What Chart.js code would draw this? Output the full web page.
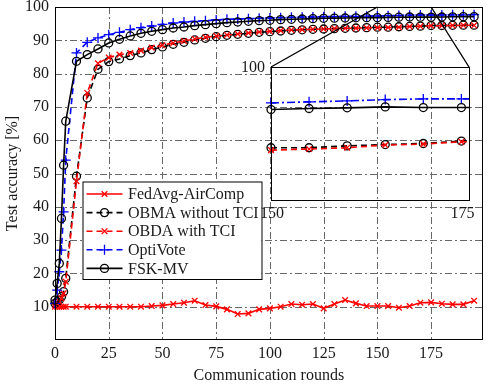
<!DOCTYPE html>
<html><head><meta charset="utf-8">
<script src="https://cdn.jsdelivr.net/npm/chart.js@4.4.1/dist/chart.umd.min.js"></script>
<style>
html,body{margin:0;padding:0;background:#fff;}
canvas{display:block;}
</style></head><body>
<canvas id="main" width="489" height="386"></canvas>
<script>
// ---------------- data ----------------
const rounds = [0,1,2,3,4,5,10,15,20,25,30,35,40,45,50,55,60,65,70,75,80,85,90,95,100,105,110,115,120,125,130,135,140,145,150,155,160,165,170,175,180,185,190,195];
const seriesNames = ['FedAvg-AirComp','OBMA without TCI','OBDA with TCI','OptiVote','FSK-MV'];
const fedAvgAirComp = [10.0,10.0,10.0,10.0,10.0,10.0,10.0,10.0,10.0,10.0,10.0,10.0,10.0,10.2,10.4,10.8,11.2,11.8,10.5,10.1,9.2,7.8,8.0,9.2,9.5,10.0,10.8,10.6,10.8,9.5,10.8,12.0,11.0,10.2,10.2,10.2,9.7,10.2,11.2,11.3,10.9,10.7,10.7,11.8];
const obmaWithoutTci = [11.0,11.5,12.0,13.0,14.5,18.5,49.2,72.7,81.3,83.6,84.4,85.4,86.2,87.2,88.0,88.8,89.4,90.1,90.6,91.1,91.5,91.8,92.1,92.4,92.6,92.8,93.0,93.15,93.3,93.4,93.5,93.6,93.7,93.8,93.93,93.93,94.07,94.17,94.25,94.43,94.45,94.5,94.55,94.55];
const obdaWithTci = [10.5,11.0,11.5,12.5,14.0,17.5,47.7,74.2,83.1,84.8,85.7,86.2,86.9,87.8,88.5,89.2,89.8,90.4,90.9,91.3,91.6,91.9,92.2,92.5,92.7,92.9,93.1,93.2,93.3,93.4,93.5,93.6,93.65,93.7,93.75,93.83,93.93,94.13,94.2,94.38,94.4,94.45,94.5,94.5];
const optiVote = [11.0,15.0,20.5,27.0,38.5,54.0,86.2,89.4,90.7,91.7,92.4,93.2,93.8,94.3,94.8,95.2,95.5,95.7,95.9,96.1,96.3,96.4,96.5,96.6,96.7,96.8,96.9,96.95,97.0,97.1,97.1,97.2,97.2,97.25,97.3,97.38,97.45,97.55,97.6,97.6,97.6,97.65,97.65,97.7];
const fskMv = [12.0,17.0,23.0,36.5,52.5,65.7,83.7,85.7,87.4,89.2,90.3,91.3,92.1,92.7,93.2,93.7,94.0,94.4,94.7,95.0,95.3,95.5,95.7,95.9,96.0,96.2,96.3,96.4,96.5,96.6,96.65,96.7,96.75,96.8,96.8,96.88,96.93,97.0,96.95,96.95,97.0,97.05,97.1,97.1];
const xTicks = [0,25,50,75,100,125,150,175];
const yTicks = [10,20,30,40,50,60,70,80,90,100];
const insetXTicks = [150,175];
const insetYTicks = [100];
const insetDataRange = [150,180];

// ---------------- styles / layout ----------------
const FONT = "'Liberation Serif','Times New Roman',serif";
const TXT = '#1a1a1a';
const GRID_COLOR = '#686868';
const INSET_BOX = {left: 271, top: 67, right: 469, bottom: 200};
const allSeries = [fedAvgAirComp, obmaWithoutTci, obdaWithTci, optiVote, fskMv];
const styles = [
  {color:'#ff0000', dash:[], insetDash:[], point:'crossRot', r:4},
  {color:'#000000', dash:[6,4], insetDash:[6,4], point:'circle', r:4},
  {color:'#ff0000', dash:[6,4], insetDash:[6,4], point:'crossRot', r:4},
  {color:'#0000ff', dash:[6,4], insetDash:[8,3,2,3], point:'cross', r:5},
  {color:'#000000', dash:[], insetDash:[], point:'circle', r:4}
];

function makeDatasets(inset) {
  return seriesNames.map((name, k) => {
    const st = styles[k];
    const pts = [];
    rounds.forEach((r, i) => {
      if (!inset || (r >= insetDataRange[0] && r <= insetDataRange[1])) pts.push({x: r, y: allSeries[k][i]});
    });
    return {
      label: name,
      isInset: inset,
      xAxisID: inset ? 'xi' : 'x',
      yAxisID: inset ? 'yi' : 'y',
      data: pts,
      borderColor: st.color,
      borderWidth: 1.6,
      borderDash: inset ? st.insetDash : st.dash,
      pointStyle: st.point,
      pointRadius: st.r,
      pointBorderColor: st.color,
      pointBackgroundColor: 'rgba(0,0,0,0)',
      pointBorderWidth: 1.3,
      fill: false,
      tension: 0,
      order: 5 - k,
      clip: inset ? {left: 7, top: 7, right: 0, bottom: 7} : 8
    };
  });
}

function zeroPad(s) { s.paddingTop = 0; s.paddingBottom = 0; s.paddingLeft = 0; s.paddingRight = 0; }

const insetLayoutPlugin = {
  id: 'insetLayout',
  afterLayout(chart) {
    const xi = chart.scales.xi, yi = chart.scales.yi;
    xi.left = INSET_BOX.left; xi.right = INSET_BOX.right; xi.width = INSET_BOX.right - INSET_BOX.left;
    xi.top = INSET_BOX.bottom; xi.bottom = INSET_BOX.bottom; xi.height = 0;
    yi.top = INSET_BOX.top; yi.bottom = INSET_BOX.bottom; yi.height = INSET_BOX.bottom - INSET_BOX.top;
    yi.left = INSET_BOX.left; yi.right = INSET_BOX.left; yi.width = 0;
    xi.configure(); yi.configure();
  }
};

const gridPlugin = {
  id: 'dashDotGrid',
  beforeDatasetsDraw(chart) {
    const a = chart.chartArea, ctx = chart.ctx;
    const sx = chart.scales.x, sy = chart.scales.y;
    ctx.save();
    ctx.strokeStyle = GRID_COLOR; ctx.lineWidth = 1; ctx.setLineDash([7,3,2,3]);
    ctx.beginPath();
    xTicks.forEach(v => { const px = Math.round(sx.getPixelForValue(v)) + 0.5; ctx.moveTo(px, a.top); ctx.lineTo(px, a.bottom); });
    yTicks.forEach(v => { const py = Math.round(sy.getPixelForValue(v)) + 0.5; ctx.moveTo(a.left, py); ctx.lineTo(a.right, py); });
    ctx.stroke();
    ctx.restore();
  }
};

const framePlugin = {
  id: 'frames',
  afterDatasetsDraw(chart) {
    const a = chart.chartArea, ctx = chart.ctx;
    const sx = chart.scales.x, sy = chart.scales.y, xi = chart.scales.xi, yi = chart.scales.yi;
    ctx.save();
    ctx.strokeStyle = '#000'; ctx.setLineDash([]);
    ctx.lineWidth = 1;
    ctx.strokeRect(Math.round(a.left) + 0.5, Math.round(a.top) + 0.5, Math.round(a.right - a.left) - 1, Math.round(a.bottom - a.top) - 1);
    ctx.strokeRect(Math.round(xi.left) + 0.5, Math.round(yi.top) + 0.5, Math.round(xi.right - xi.left), Math.round(yi.bottom - yi.top));
    ctx.lineWidth = 1.4;
    ctx.beginPath();
    ctx.moveTo(xi.left, yi.top); ctx.lineTo(sx.getPixelForValue(insetXTicks[0]), sy.getPixelForValue(yi.max));
    ctx.moveTo(xi.right, yi.top); ctx.lineTo(sx.getPixelForValue(insetXTicks[1]), sy.getPixelForValue(yi.max));
    ctx.stroke();
    ctx.fillStyle = TXT; ctx.font = '16px ' + FONT;
    ctx.textAlign = 'right'; ctx.textBaseline = 'middle';
    insetYTicks.forEach(v => ctx.fillText(String(v), xi.left - 6, yi.getPixelForValue(v) + 1));
    ctx.textAlign = 'center'; ctx.textBaseline = 'top';
    insetXTicks.forEach(v => ctx.fillText(String(v), xi.getPixelForValue(v) + 1, yi.bottom + 6));
    ctx.restore();
  }
};

const legendPlugin = {
  id: 'customLegend',
  afterDraw(chart) {
    const ctx = chart.ctx, a = chart.chartArea;
    const L = a.left + 27.5, T = a.top + 174.5, W = 179, H = 97.5;
    ctx.save();
    ctx.fillStyle = '#fff';
    ctx.fillRect(L, T, W, H);
    ctx.strokeStyle = '#000'; ctx.lineWidth = 1; ctx.setLineDash([]);
    ctx.strokeRect(L + 0.5, T + 0.5, W, H);
    chart.data.datasets.filter(ds => !ds.isInset).forEach((ds, k) => {
      const y = T + 12.5 + k * 18.6;
      ctx.strokeStyle = ds.borderColor;
      ctx.lineWidth = ds.borderWidth;
      ctx.setLineDash(ds.borderDash);
      ctx.beginPath(); ctx.moveTo(L + 4, y); ctx.lineTo(L + 40, y); ctx.stroke();
      ctx.setLineDash([]);
      ctx.fillStyle = 'rgba(0,0,0,0)';
      ctx.strokeStyle = ds.pointBorderColor;
      ctx.lineWidth = ds.pointBorderWidth;
      Chart.helpers.drawPoint(ctx, {pointStyle: ds.pointStyle, radius: ds.pointRadius, borderWidth: ds.pointBorderWidth, rotation: 0}, L + 22, y);
      ctx.fillStyle = TXT;
      ctx.font = '16px ' + FONT;
      ctx.textBaseline = 'middle';
      ctx.textAlign = 'left';
      ctx.fillText(ds.label, L + 45.5, y + 1);
    });
    ctx.restore();
  }
};

new Chart(document.getElementById('main'), {
  type: 'line',
  data: {datasets: makeDatasets(false).concat(makeDatasets(true))},
  options: {
    responsive: false, animation: false, devicePixelRatio: 1,
    layout: {padding: {left: 0, right: 6, top: 7, bottom: 0}},
    plugins: {legend: {display: false}, tooltip: {enabled: false}},
    scales: {
      x: {
        type: 'linear', axis: 'x', position: 'bottom', min: 0, max: 199,
        afterBuildTicks: s => { s.ticks = xTicks.map(v => ({value: v})); },
        afterFit: s => { s.height = 46; zeroPad(s); },
        ticks: {font: {family: FONT, size: 16}, color: TXT, padding: 4, maxRotation: 0, autoSkip: false},
        grid: {display: false, drawTicks: false},
        border: {display: false},
        title: {display: true, text: 'Communication rounds', font: {family: FONT, size: 16}, color: TXT, padding: {top: 0, bottom: 1}}
      },
      y: {
        type: 'linear', axis: 'y', position: 'left', min: 0, max: 100,
        afterBuildTicks: s => { s.ticks = yTicks.map(v => ({value: v})); },
        afterFit: s => { s.width = 55; zeroPad(s); },
        ticks: {font: {family: FONT, size: 16}, color: TXT, padding: 6, autoSkip: false},
        grid: {display: false, drawTicks: false},
        border: {display: false},
        title: {display: true, text: 'Test accuracy [%]', font: {family: FONT, size: 16}, color: TXT, padding: {top: 3, bottom: 0}}
      },
      xi: {
        type: 'linear', axis: 'x', position: 'bottom', min: 150, max: 176, display: false,
        afterFit: s => { s.height = 0; zeroPad(s); }
      },
      yi: {
        type: 'linear', axis: 'y', position: 'left', min: 90, max: 100, display: false,
        afterFit: s => { s.width = 0; zeroPad(s); }
      }
    }
  },
  plugins: [insetLayoutPlugin, gridPlugin, framePlugin, legendPlugin]
});
</script>
</body></html>
